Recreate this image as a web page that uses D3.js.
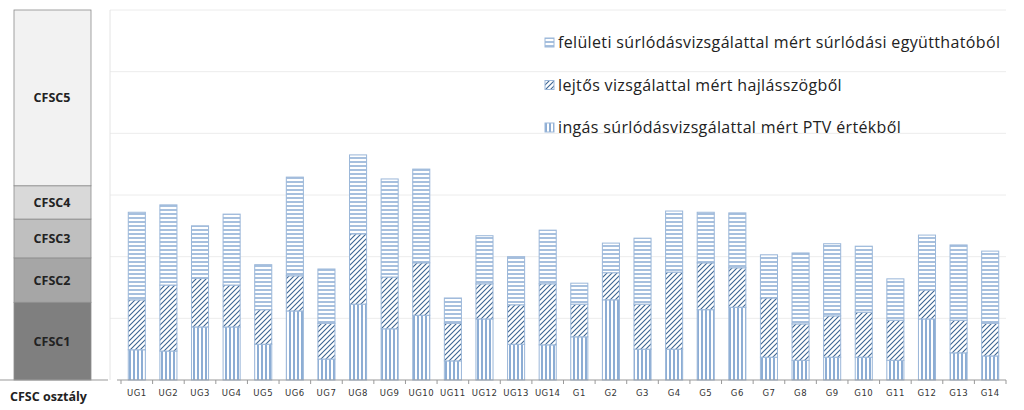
<!DOCTYPE html>
<html><head><meta charset="utf-8">
<script src="https://cdn.jsdelivr.net/npm/d3@7/dist/d3.min.js"></script>
<style>body{margin:0;background:#fff}</style></head>
<body><svg id="c" width="1024" height="410"></svg>
<script>
const categories=["UG1","UG2","UG3","UG4","UG5","UG6","UG7","UG8","UG9","UG10","UG11","UG12","UG13","UG14","G1","G2","G3","G4","G5","G6","G7","G8","G9","G10","G11","G12","G13","G14"];
const ptv=[.49,.47,.86,.86,.58,1.12,.34,1.23,.83,1.05,.31,.99,.58,.57,.70,1.30,.50,.50,1.14,1.18,.37,.32,.37,.37,.32,.99,.44,.39];
const lejtos=[.81,1.07,.79,.68,.56,.57,.58,1.14,.84,.85,.61,.57,.64,.99,.53,.44,.73,1.25,.76,.64,.96,.59,.67,.73,.65,.47,.53,.53];
const feluleti=[1.42,1.30,.85,1.15,.73,1.60,.88,1.28,1.59,1.52,.41,.78,.78,.87,.34,.48,1.07,.99,.82,.89,.70,1.15,1.17,1.07,.67,.89,1.22,1.17];
const classNames=["CFSC1","CFSC2","CFSC3","CFSC4","CFSC5"];
const classBounds=[0,1.26,1.98,2.61,3.15,6];
const classColors=["#7f7f7f","#a6a6a6","#bfbfbf","#d9d9d9","#f2f2f2"];
const legendLabels=["felületi súrlódásvizsgálattal mért súrlódási együtthatóból","lejtős vizsgálattal mért hajlásszögből","ingás súrlódásvizsgálattal mért PTV értékből"];

const svg=d3.select("#c");
const y=d3.scaleLinear().domain([0,6]).range([380,10]);
const x=d3.scaleBand().domain(categories).range([121,1006]).paddingInner(0.46).paddingOuter(0.23);
const blue="#4f81bd";
const defs=svg.append("defs");
function pat(id,w,draw){const p=defs.append("pattern").attr("id",id).attr("patternUnits","userSpaceOnUse").attr("width",w).attr("height",w);p.append("rect").attr("width",w).attr("height",w).attr("fill","#fff");draw(p);}
pat("ph",4,p=>p.append("line").attr("x1",0).attr("x2",4).attr("y1",2).attr("y2",2).attr("stroke",blue).attr("stroke-width",1));
pat("pd",5,p=>{p.append("path").attr("d","M-1,1L1,-1M0,5L5,0M4,6L6,4").attr("stroke","#3c6592").attr("stroke-width",1.1);});
pat("pv",4,p=>p.append("line").attr("y1",0).attr("y2",4).attr("x1",2).attr("x2",2).attr("stroke",blue).attr("stroke-width",1.3));

svg.append("g").selectAll("line").data(d3.range(1,7)).join("line")
 .attr("x1",110).attr("x2",1006).attr("y1",d=>y(d)).attr("y2",d=>y(d)).attr("stroke","#ececec");
svg.append("line").attr("x1",110).attr("x2",110).attr("y1",10).attr("y2",380).attr("stroke","#e4e4e4");

const cls=svg.append("g");
classNames.forEach((n,i)=>{
 cls.append("rect").attr("x",14).attr("width",77).attr("y",y(classBounds[i+1])).attr("height",y(classBounds[i])-y(classBounds[i+1])).attr("fill",classColors[i]).attr("stroke","#8c8c8c").attr("stroke-width",0.8);
 cls.append("text").attr("x",52).attr("y",(y(classBounds[i])+y(classBounds[i+1]))/2+4.5).attr("text-anchor","middle").attr("font-family","Open Sans, sans-serif").attr("font-weight","bold").attr("font-size",12.5).attr("fill","#222").text(n);
});
svg.append("line").attr("x1",0).attr("x2",108).attr("y1",380).attr("y2",380).attr("stroke","#999");
svg.append("text").attr("x",10).attr("y",401).attr("font-family","Open Sans, sans-serif").attr("font-weight","bold").attr("font-size",12.5).attr("fill","#222").text("CFSC osztály");

const series=[ptv,lejtos,feluleti], pats=["pv","pd","ph"];
const g=svg.append("g");
categories.forEach((c,i)=>{
 let base=0;
 series.forEach((s,k)=>{
  const v=s[i];
  g.append("rect").attr("x",x(c)).attr("width",x.bandwidth()).attr("y",y(base+v)).attr("height",y(base)-y(base+v)).attr("fill",`url(#${pats[k]})`).attr("stroke","#9bb7d9").attr("stroke-width",1);
  base+=v;
 });
});

const ax=svg.append("g").attr("transform","translate(0,380)").call(d3.axisBottom(x).tickSize(0).tickPadding(10));
ax.select(".domain").attr("stroke","#999").attr("d","M117,0H1006");
ax.selectAll("text").attr("font-family","DejaVu Sans, sans-serif").attr("font-size",8.5).attr("fill","#333").attr("letter-spacing","0.5");
const step=x.step();
svg.append("g").selectAll("line").data(d3.range(categories.length+1)).join("line")
 .attr("x1",d=>121+d*step).attr("x2",d=>121+d*step).attr("y1",380).attr("y2",384).attr("stroke","#999");

const lg=svg.append("g");
legendLabels.forEach((t,i)=>{
 const yy=48+i*42.5;
 lg.append("rect").attr("x",545).attr("y",yy-10).attr("width",9).attr("height",9).attr("fill",`url(#${["ph","pd","pv"][i]})`).attr("stroke","#9bb7d9");
 lg.append("text").attr("x",558).attr("y",yy).attr("font-family","Open Sans, sans-serif").attr("font-size",16).attr("letter-spacing","0.35").attr("fill","#222").text(t);
});
</script></body></html>
